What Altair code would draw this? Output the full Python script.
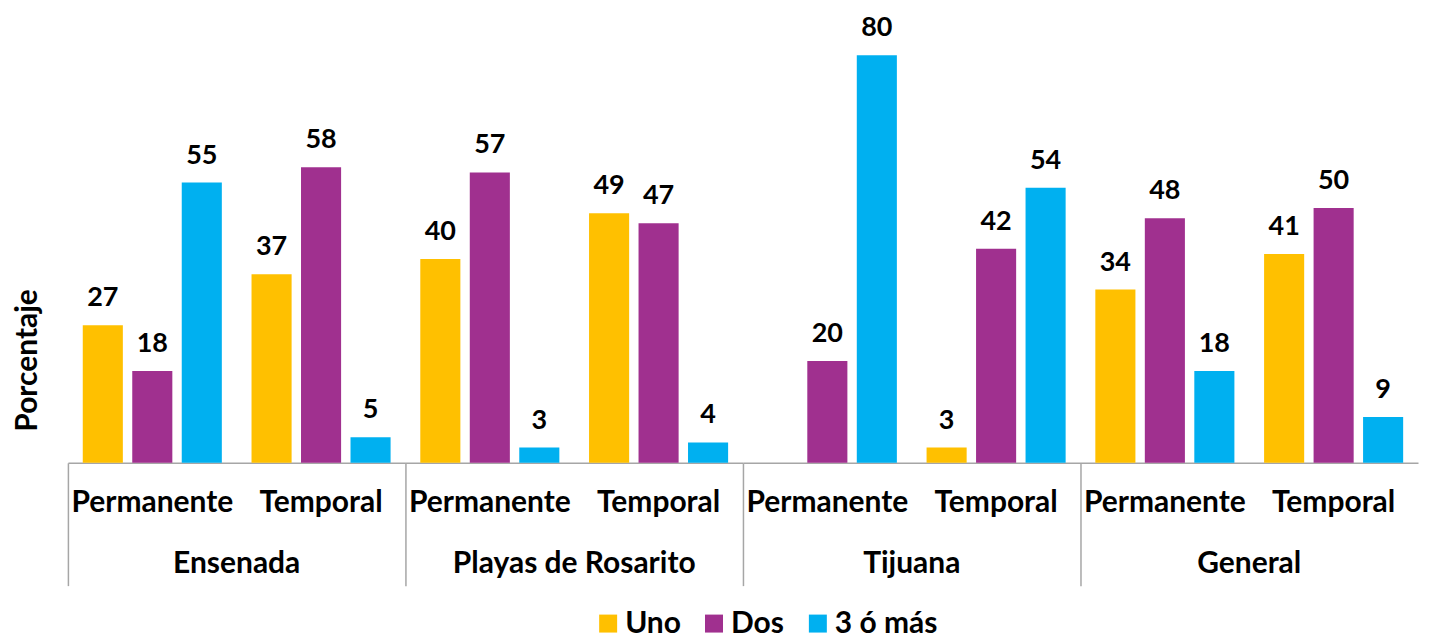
import altair as alt
import pandas as pd

cities = ["Ensenada", "Playas de Rosarito", "Tijuana", "General"]
tipos = ["Permanente", "Temporal"]
series = ["Uno", "Dos", "3 ó más"]
# order: Ensenada-Perm, Ensenada-Temp, Rosarito-Perm, Rosarito-Temp, Tijuana-Perm, Tijuana-Temp, General-Perm, General-Temp
uno = [27, 37, 40, 49, None, 3, 34, 41]
dos = [18, 58, 57, 47, 20, 42, 48, 50]
tres = [55, 5, 3, 4, 80, 54, 18, 9]
colors = ["#FFC000", "#A0308F", "#00B0F0"]

rows = []
for i, c in enumerate(cities):
    for j, t in enumerate(tipos):
        k = i * 2 + j
        for s, vals in zip(series, [uno, dos, tres]):
            v = vals[k]
            if v is not None:
                rows.append({"ciudad": c, "tipo": t, "serie": s, "valor": v})
df = pd.DataFrame(rows)

FONT = "Lato"
GREY = "#A6A6A6"

base = alt.Chart().encode(
    x=alt.X(
        "tipo:N", sort=tipos,
        scale=alt.Scale(paddingInner=0, paddingOuter=0),
        axis=alt.Axis(
            title=None, labelAngle=0, labelFont=FONT, labelFontSize=30,
            labelFontWeight="bold", labelColor="black",
            domainColor=GREY, domainWidth=1.5,
            bandPosition=0, tickSize=123, tickWidth=1.5,
            tickColor={"condition": {"test": "datum.value == 'Permanente'", "value": GREY},
                       "value": "transparent"},
            labelPadding=-98,
        ),
    ),
    xOffset=alt.XOffset("serie:N", sort=series,
                        scale=alt.Scale(domain=series, paddingInner=0.19, paddingOuter=0.3)),
    y=alt.Y(
        "valor:Q", scale=alt.Scale(domain=[0, 88]),
        axis=alt.Axis(title="Porcentaje", labels=False, ticks=False, domain=False, grid=False,
                      titleFont=FONT, titleFontSize=30, titleFontWeight="bold", titleColor="black",
                      titleX=-40, titleY=346, titleBaseline="middle", titleAngle=270),
    ),
)

bars = base.mark_bar().encode(
    color=alt.Color(
        "serie:N", sort=series,
        scale=alt.Scale(domain=series, range=colors),
        legend=alt.Legend(title=None, orient="none", legendX=526, legendY=595,
                          direction="horizontal",
                          symbolType="square", symbolSize=324, symbolStrokeWidth=0,
                          labelFont=FONT, labelFontSize=30, labelFontWeight="bold",
                          labelColor="black", columnPadding=18, labelOffset=2),
    )
)

text = base.mark_text(baseline="alphabetic", dy=-19, font=FONT, fontSize=27,
                      fontWeight="bold", color="black").encode(text="valor:Q")

chart = (
    alt.layer(bars, text, data=df)
    .properties(width=338, height=449)
    .facet(
        column=alt.Column(
            "ciudad:N", sort=cities,
            header=alt.Header(title=None, labelOrient="bottom", labelFont=FONT,
                              labelFontSize=30, labelFontWeight="bold", labelColor="black",
                              labelPadding=-37),
        ),
        spacing=0,
    )
    .properties(padding={"left": 5, "top": 5, "right": 5, "bottom": 0})
    .configure_view(strokeWidth=0)
)

chart.save("out.html", embed_options={"renderer": "svg", "actions": False})
